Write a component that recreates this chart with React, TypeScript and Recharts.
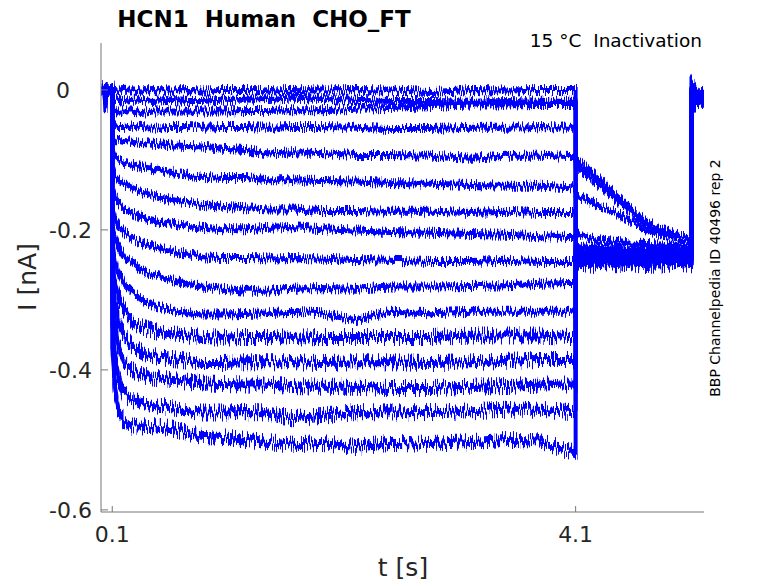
import React from "react";
import { LineChart, Line, XAxis, YAxis } from "recharts";

// sample times [s]; repeated times give the vertical voltage-step edges
const timeS = [
  0.003, 0.03, 0.042, 0.05, 0.1,
  0.1, 0.12, 0.15, 0.2, 0.27, 0.35, 0.45, 0.6, 0.75, 0.87, 1.05, 1.25, 1.45, 1.65, 1.9, 2.2, 2.5, 2.85, 3.2, 3.5, 3.8, 4.05,
  4.1,
  4.1, 4.15, 4.25, 4.35, 4.45, 4.55, 4.7, 4.85, 5.0, 5.1,
  5.1, 5.15, 5.208,
];

// current [nA] per sweep
const sweep01 = [0.003, 0.001, -0.029, 0, 0.001,
  -0.001, 0, -0.001, 0, 0.001, -0.001, 0, -0.001, 0, -0.001, 0, 0, -0.001, 0, -0.001, 0, -0.001, -0.003, 0, -0.001, 0, 0,
  0,
  -0.236, -0.237, -0.234, -0.239, -0.236, -0.237, -0.234, -0.237, -0.236, -0.239,
  0.011, -0.003, -0.004];
const sweep02 = [0, -0.001, 0, 0.001, 0,
  -0.011, -0.014, -0.014, -0.016, -0.014, -0.014, -0.016, -0.014, -0.016, -0.016, -0.014, -0.014, -0.013, -0.011, -0.013, -0.014, -0.016, -0.016, -0.017, -0.016, -0.017, -0.017,
  -0.017,
  -0.243, -0.241, -0.244, -0.24, -0.243, -0.244, -0.241, -0.243, -0.24, -0.243,
  -0.007, -0.009, -0.007];
const sweep03 = [-0.001, 0, 0.001, -0.001, 0,
  -0.026, -0.03, -0.031, -0.031, -0.031, -0.033, -0.031, -0.031, -0.031, -0.031, -0.031, -0.03, -0.03, -0.029, -0.029, -0.027, -0.026, -0.023, -0.021, -0.021, -0.02, -0.02,
  -0.02,
  -0.229, -0.231, -0.23, -0.233, -0.229, -0.231, -0.23, -0.229, -0.231, -0.23,
  -0.011, -0.013, -0.011];
const sweep04 = [0.001, 0, -0.001, 0, -0.001,
  -0.046, -0.051, -0.053, -0.053, -0.051, -0.053, -0.054, -0.053, -0.053, -0.054, -0.053, -0.053, -0.054, -0.053, -0.053, -0.054, -0.056, -0.056, -0.054, -0.054, -0.053, -0.054,
  -0.054,
  -0.107, -0.114, -0.129, -0.143, -0.157, -0.171, -0.19, -0.201, -0.209, -0.214,
  -0.014, -0.016, -0.014];
const sweep05 = [0, 0.001, 0, -0.001, 0.001,
  -0.066, -0.07, -0.071, -0.073, -0.074, -0.076, -0.077, -0.079, -0.08, -0.081, -0.084, -0.086, -0.091, -0.089, -0.09, -0.093, -0.093, -0.094, -0.097, -0.094, -0.094, -0.096,
  -0.096,
  -0.099, -0.106, -0.12, -0.134, -0.151, -0.167, -0.187, -0.2, -0.209, -0.213,
  -0.003, -0.006, -0.004];
const sweep06 = [-0.001, 0, 0, 0.001, 0,
  -0.089, -0.097, -0.101, -0.104, -0.107, -0.11, -0.113, -0.117, -0.121, -0.124, -0.126, -0.126, -0.129, -0.129, -0.13, -0.131, -0.133, -0.134, -0.136, -0.137, -0.137, -0.139,
  -0.139,
  -0.15, -0.154, -0.161, -0.169, -0.176, -0.184, -0.199, -0.207, -0.211, -0.214,
  -0.01, -0.009, -0.01];
const sweep07 = [0, -0.001, 0, 0, -0.001,
  -0.111, -0.123, -0.129, -0.134, -0.14, -0.146, -0.151, -0.157, -0.161, -0.164, -0.167, -0.169, -0.171, -0.171, -0.173, -0.173, -0.174, -0.174, -0.176, -0.174, -0.176, -0.176,
  -0.176,
  -0.203, -0.209, -0.213, -0.216, -0.217, -0.219, -0.22, -0.221, -0.221, -0.223,
  -0.016, -0.014, -0.017];
const sweep08 = [0.001, 0, 0, -0.001, 0,
  -0.137, -0.151, -0.16, -0.169, -0.176, -0.181, -0.187, -0.191, -0.194, -0.197, -0.199, -0.199, -0.197, -0.196, -0.199, -0.201, -0.203, -0.204, -0.206, -0.207, -0.209, -0.21,
  -0.21,
  -0.223, -0.226, -0.224, -0.227, -0.226, -0.229, -0.227, -0.226, -0.229, -0.227,
  -0.006, -0.007, -0.006];
const sweep09 = [0, 0, -0.001, 0.001, 0,
  -0.164, -0.183, -0.193, -0.203, -0.211, -0.219, -0.224, -0.23, -0.234, -0.239, -0.24, -0.24, -0.241, -0.24, -0.241, -0.243, -0.244, -0.246, -0.246, -0.244, -0.246, -0.246,
  -0.246,
  -0.231, -0.233, -0.236, -0.234, -0.237, -0.234, -0.236, -0.233, -0.236, -0.234,
  -0.013, -0.011, -0.013];
const sweep10 = [-0.001, 0, 0.001, 0, 0,
  -0.189, -0.21, -0.223, -0.236, -0.247, -0.257, -0.264, -0.271, -0.277, -0.281, -0.284, -0.287, -0.287, -0.284, -0.283, -0.284, -0.281, -0.281, -0.28, -0.279, -0.277, -0.276,
  -0.276,
  -0.24, -0.239, -0.241, -0.24, -0.243, -0.241, -0.24, -0.243, -0.241, -0.24,
  -0.009, -0.01, -0.009];
const sweep11 = [0, -0.001, 0, -0.001, 0.001,
  -0.214, -0.243, -0.26, -0.276, -0.289, -0.299, -0.307, -0.314, -0.319, -0.321, -0.321, -0.32, -0.319, -0.317, -0.319, -0.329, -0.317, -0.319, -0.317, -0.317, -0.317, -0.317,
  -0.317,
  -0.246, -0.247, -0.244, -0.249, -0.246, -0.247, -0.246, -0.244, -0.247, -0.246,
  -0.019, -0.017, -0.019];
const sweep12 = [0.001, 0, 0, 0, -0.001,
  -0.24, -0.274, -0.294, -0.314, -0.329, -0.339, -0.344, -0.349, -0.351, -0.353, -0.354, -0.353, -0.353, -0.354, -0.353, -0.353, -0.353, -0.353, -0.351, -0.351, -0.351, -0.353,
  -0.353,
  -0.237, -0.24, -0.239, -0.237, -0.24, -0.239, -0.241, -0.239, -0.237, -0.24,
  -0.007, -0.006, -0.007];
const sweep13 = [0, 0.001, -0.001, 0, 0,
  -0.264, -0.303, -0.329, -0.351, -0.366, -0.374, -0.38, -0.384, -0.387, -0.39, -0.39, -0.389, -0.389, -0.389, -0.39, -0.389, -0.389, -0.39, -0.389, -0.387, -0.386, -0.386,
  -0.386,
  -0.233, -0.23, -0.234, -0.231, -0.233, -0.236, -0.231, -0.234, -0.233, -0.231,
  -0.013, -0.014, -0.013];
const sweep14 = [-0.001, 0, 0, 0.001, 0,
  -0.293, -0.336, -0.364, -0.389, -0.4, -0.407, -0.411, -0.414, -0.417, -0.419, -0.42, -0.421, -0.421, -0.423, -0.424, -0.424, -0.426, -0.426, -0.424, -0.423, -0.421, -0.421,
  -0.421,
  -0.241, -0.244, -0.243, -0.246, -0.241, -0.244, -0.243, -0.246, -0.244, -0.243,
  -0.01, -0.011, -0.01];
const sweep15 = [0, 0, 0.001, -0.001, 0,
  -0.329, -0.379, -0.411, -0.434, -0.443, -0.447, -0.45, -0.453, -0.457, -0.461, -0.461, -0.46, -0.461, -0.469, -0.466, -0.46, -0.461, -0.46, -0.459, -0.457, -0.457, -0.46,
  -0.46,
  -0.249, -0.247, -0.25, -0.246, -0.249, -0.247, -0.25, -0.249, -0.247, -0.249,
  -0.016, -0.017, -0.016];
const sweep16 = [0, -0.001, 0, 0, 0.001,
  -0.364, -0.421, -0.457, -0.474, -0.481, -0.481, -0.48, -0.483, -0.49, -0.494, -0.496, -0.5, -0.503, -0.507, -0.504, -0.51, -0.504, -0.506, -0.503, -0.5, -0.501, -0.517,
  -0.517,
  -0.239, -0.241, -0.237, -0.24, -0.239, -0.241, -0.24, -0.237, -0.24, -0.239,
  -0.02, -0.019, -0.02];

const sweeps = [sweep01, sweep02, sweep03, sweep04, sweep05, sweep06, sweep07, sweep08,
  sweep09, sweep10, sweep11, sweep12, sweep13, sweep14, sweep15, sweep16];

const xTicks = [0.1, 4.1];
const yTicks = [-0.6, -0.4, -0.2, 0];

const rows = timeS.map((t, i) => {
  const r: any = { t };
  sweeps.forEach((s, k) => { r["s" + k] = s[i]; });
  return r;
});

const axisGray = "#777777";
const labelGray = "#262626";
const font = '"DejaVu Sans", sans-serif';

const XTick = (props: any) => {
  const { x, payload } = props;
  return (
    <g>
      <line x1={x} x2={x} y1={512} y2={506} stroke={axisGray} />
      <text x={x} y={542} textAnchor="middle" fontSize={22} fontFamily={font} fill={labelGray}>
        {payload.value}
      </text>
    </g>
  );
};

const YTick = (props: any) => {
  const { y, payload } = props;
  return (
    <g>
      <line x1={101} x2={108} y1={y} y2={y} stroke={axisGray} />
      <text x={payload.value === 0 ? 70 : 92} y={y + 8} textAnchor="end" fontSize={22} fontFamily={font} fill={labelGray}>
        {payload.value}
      </text>
    </g>
  );
};

const App = () => {
  return (
    <div style={{ position: "absolute", left: 0, top: 0, width: 778, height: 583, background: "#fff" }}>
      <style>{`.noise-s { filter: url(#noiseS); } .noise-l { filter: url(#noiseL); }`}</style>
      {/* noise texture for the recorded traces */}
      <svg width={0} height={0} style={{ position: "absolute" }}>
        <defs>
          <filter id="noiseS" filterUnits="userSpaceOnUse" x={0} y={0} width={778} height={583} colorInterpolationFilters="sRGB">
            <feTurbulence type="fractalNoise" baseFrequency="1.1 0.06" numOctaves={2} seed={3} result="turb" />
            <feColorMatrix in="turb" type="matrix" values="0 0 0 0 0.5  0 3 0 0 -1  0 0 0 0 0  0 0 0 0 1" result="map" />
            <feDisplacementMap in="SourceGraphic" in2="map" scale={6} xChannelSelector="R" yChannelSelector="G" result="moved" />
            <feMorphology in="moved" operator="dilate" radius="0 1" />
          </filter>
          <filter id="noiseL" filterUnits="userSpaceOnUse" x={0} y={0} width={778} height={583} colorInterpolationFilters="sRGB">
            <feTurbulence type="fractalNoise" baseFrequency="0.9 0.06" numOctaves={2} seed={7} result="turb" />
            <feColorMatrix in="turb" type="matrix" values="0 0 0 0 0.5  0 3 0 0 -1  0 0 0 0 0  0 0 0 0 1" result="map" />
            <feDisplacementMap in="SourceGraphic" in2="map" scale={10} xChannelSelector="R" yChannelSelector="G" result="moved" />
            <feMorphology in="moved" operator="dilate" radius="0 1.5" />
          </filter>
        </defs>
      </svg>
      <LineChart width={778} height={583} data={rows} margin={{ top: 43, right: 74, bottom: 41, left: 41 }}>
        <XAxis
          type="number"
          dataKey="t"
          domain={[0.003, 5.208]}
          ticks={xTicks}
          allowDataOverflow
          height={30}
          axisLine={{ stroke: axisGray }}
          tickLine={false}
          tick={(p: any) => <XTick {...p} />}
        />
        <YAxis
          type="number"
          domain={[-0.603, 0.067]}
          ticks={yTicks}
          allowDataOverflow
          width={60}
          axisLine={{ stroke: axisGray }}
          tickLine={false}
          tick={(p: any) => <YTick {...p} />}
        />
        {sweeps.map((_, k) => (
          <Line
            key={k}
            type="linear"
            dataKey={"s" + k}
            stroke="#0000ff"
            strokeWidth={4}
            dot={false}
            className={k >= 11 ? "noise-l" : "noise-s"}
            isAnimationActive={false}
          />
        ))}
      </LineChart>
      <svg width={778} height={583} style={{ position: "absolute", left: 0, top: 0, pointerEvents: "none" }}>
        <text x={264} y={27} textAnchor="middle" fontSize={23} fontWeight="bold" fontFamily={font} fill="#000" style={{ whiteSpace: "pre" }}>
          HCN1  Human  CHO_FT
        </text>
        <text x={702} y={47} textAnchor="end" fontSize={18.5} fontFamily={font} fill="#000" style={{ whiteSpace: "pre" }}>
          15 °C  Inactivation
        </text>
        <text transform="translate(36,277) rotate(-90)" textAnchor="middle" fontSize={25} fontFamily={font} fill={labelGray}>
          I [nA]
        </text>
        <text x={403} y={576} textAnchor="middle" fontSize={25} fontFamily={font} fill={labelGray}>
          t [s]
        </text>
        <text transform="translate(720,278) rotate(-90)" textAnchor="middle" fontSize={14} fontFamily={font} fill="#000">
          BBP Channelpedia ID 40496 rep 2
        </text>
      </svg>
    </div>
  );
};

export default App;
